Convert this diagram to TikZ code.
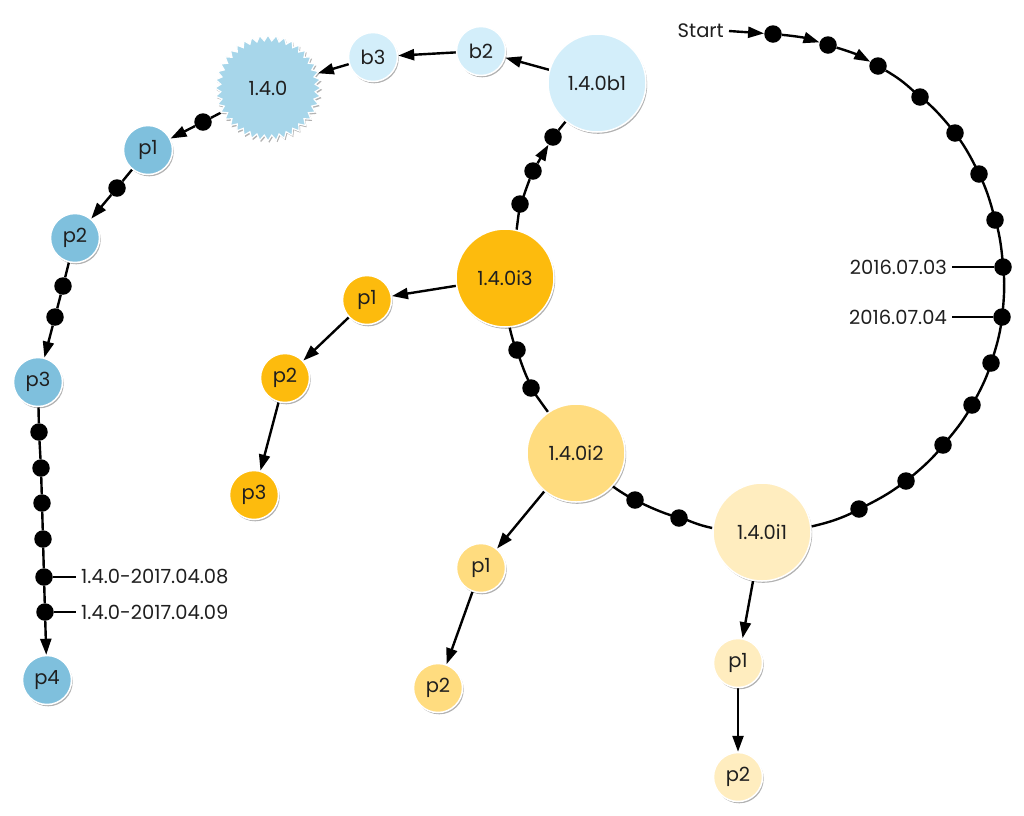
\documentclass[tikz,border=0pt]{standalone}
\usepackage{fontspec}
\setmainfont{Poppins}
\usetikzlibrary{shapes.geometric,shadows,arrows.meta,backgrounds}
\definecolor{amber}{HTML}{FDBB0D}
\definecolor{gold}{HTML}{FFDC7F}
\definecolor{cream}{HTML}{FFEDBF}
\definecolor{skyl}{HTML}{D3EEFA}
\definecolor{skym}{HTML}{A7D6EA}
\definecolor{skyd}{HTML}{7FC0DD}
\begin{document}
\begin{tikzpicture}[x=1pt,y=-1pt,
  font=\fontsize{19.5}{22}\selectfont,
  ver/.style={circle,draw=white,line width=1.5pt,inner sep=0pt,text=black!88,
    drop shadow={shadow xshift=1.2pt,shadow yshift=-1.8pt,opacity=0.3,fill=black}},
  big/.style={ver,minimum size=98pt},
  small/.style={ver,minimum size=49pt},
  dotn/.style={circle,fill=black,inner sep=0pt,minimum size=17.5pt},
  edge/.style={line width=2.4pt,black},
  arr/.style={edge,-{Triangle[length=16pt,width=11pt]}},
  lab/.style={inner sep=5pt,text=black!88},
]
\useasboundingbox (0,0) rectangle (1024,815);

% right arc dots
\node[dotn] (r1) at (773,34) {};
\node[dotn] (r2) at (828,45) {};
\node[dotn] (r3) at (878,66) {};
\node[dotn] (r4) at (920,97) {};
\node[dotn] (r5) at (955,133) {};
\node[dotn] (r6) at (979,174) {};
\node[dotn] (r7) at (995,220) {};
\node[dotn] (r8) at (1003,267) {};
\node[dotn] (r9) at (1002,317) {};
\node[dotn] (r10) at (991,363) {};
\node[dotn] (r11) at (972,405) {};
\node[dotn] (r12) at (943,445) {};
\node[dotn] (r13) at (906,481) {};
\node[dotn] (r14) at (859,509) {};

\node[lab,anchor=east] (start) at (729,31) {Start};
\node[lab,anchor=east] (t03) at (952,267) {2016.07.03};
\node[lab,anchor=east] (t04) at (952,317) {2016.07.04};

% main version nodes
\node[big,fill=cream] (i1) at (762,532) {1.4.0i1};
\node[dotn] (m1) at (679,518) {};
\node[dotn] (m2) at (635,500) {};
\node[big,fill=gold] (i2) at (576,453) {1.4.0i2};
\node[dotn] (m3) at (531,388) {};
\node[dotn] (m4) at (517,350) {};
\node[big,fill=amber] (i3) at (505,278) {1.4.0i3};
\node[dotn] (m5) at (520,204) {};
\node[dotn] (m6) at (533,171) {};
\node[dotn] (m7) at (553,137) {};
\node[big,fill=skyl] (b1) at (597,83) {1.4.0b1};
\node[small,fill=skyl] (b2) at (481,51) {b2};
\node[small,fill=skyl] (b3) at (373,57) {b3};
\node[star,star points=40,star point ratio=1.12,minimum size=106pt,inner sep=0pt,
  fill=skym,draw=white,line width=1.2pt,text=black!88,
  drop shadow={shadow xshift=1.2pt,shadow yshift=-1.8pt,opacity=0.3,fill=black}] (rel) at (268,88) {1.4.0};

% left chain
\node[dotn] (l1) at (203,122) {};
\node[small,fill=skyd] (p1) at (148,150) {p1};
\node[dotn] (l2) at (117,188) {};
\node[small,fill=skyd] (p2) at (75,238) {p2};
\node[dotn] (l3) at (63,286) {};
\node[dotn] (l4) at (55,317) {};
\node[small,fill=skyd] (p3) at (38,382) {p3};
\node[dotn] (v1) at (39,432) {};
\node[dotn] (v2) at (41,468) {};
\node[dotn] (v3) at (42,503) {};
\node[dotn] (v4) at (43,539) {};
\node[dotn] (v5) at (44,577) {};
\node[dotn] (v6) at (45,612) {};
\node[small,fill=skyd] (p4) at (47,680) {p4};
\node[lab,anchor=west] (t08) at (76,577) {1.4.0-2017.04.08};
\node[lab,anchor=west] (t09) at (76,612) {1.4.0-2017.04.09};

% branches
\node[small,fill=amber] (o1) at (367,300) {p1};
\node[small,fill=amber] (o2) at (285,378) {p2};
\node[small,fill=amber] (o3) at (254,495) {p3};
\node[small,fill=gold] (y1) at (481,568) {p1};
\node[small,fill=gold] (y2) at (438,688) {p2};
\node[small,fill=cream] (c1) at (738,663) {p1};
\node[small,fill=cream] (c2) at (738,777) {p2};

\begin{scope}[on background layer]
  \fill[white] (0,0) rectangle (1024,815);
  \draw[arr] (start.east) -- (r1);
  \draw[arr] (r1) to[bend left=6] (r2);
  \draw[arr] (r2) to[bend left=6] (r3);
  \draw[edge] (r3) to[bend left=6] (r4) to[bend left=6] (r5) to[bend left=6] (r6)
    to[bend left=6] (r7) to[bend left=6] (r8) to[bend left=6] (r9) to[bend left=6] (r10)
    to[bend left=6] (r11) to[bend left=6] (r12) to[bend left=6] (r13) to[bend left=6] (r14)
    to[bend left=8] (i1);
  \draw[edge] (r8) -- (t03.east);
  \draw[edge] (r9) -- (t04.east);
  \draw[edge] (i1) to[bend left=5] (m1) to[bend left=5] (m2) to[bend left=5] (i2)
    to[bend left=5] (m3) to[bend left=5] (m4) to[bend left=5] (i3)
    to[bend left=3] (m5) to[bend left=3] (m6);
  \draw[arr] (m6) -- (m7);
  \draw[edge] (m7) -- (b1);
  \draw[arr] (b1) -- (b2);
  \draw[arr] (b2) -- (b3);
  \draw[arr] (b3) -- (rel);
  \draw[edge] (rel) -- (l1);
  \draw[arr] (l1) -- (p1);
  \draw[edge] (p1) -- (l2);
  \draw[arr] (l2) -- (p2);
  \draw[edge] (p2) -- (l3) -- (l4);
  \draw[arr] (l4) -- (p3);
  \draw[edge] (p3) -- (v1) -- (v2) -- (v3) -- (v4) -- (v5) -- (v6);
  \draw[arr] (v6) -- (p4);
  \draw[edge] (v5) -- (t08.west);
  \draw[edge] (v6) -- (t09.west);
  \draw[arr] (i3) -- (o1);
  \draw[arr] (o1) -- (o2);
  \draw[arr] (o2) -- (o3);
  \draw[arr] (i2) -- (y1);
  \draw[arr] (y1) -- (y2);
  \draw[arr] (i1) -- (c1);
  \draw[arr] (c1) -- (c2);
\end{scope}
\end{tikzpicture}
\end{document}
